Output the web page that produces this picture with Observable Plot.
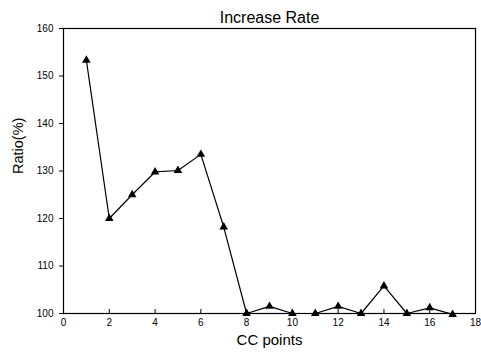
<!DOCTYPE html>
<html><head><meta charset="utf-8">
<script src="https://cdn.jsdelivr.net/npm/d3@7"></script>
<script src="https://cdn.jsdelivr.net/npm/@observablehq/plot@0.6"></script>
<style>body{margin:0;background:#fff}</style>
</head><body><div id="chart"></div>
<script>
const points = [1,2,3,4,5,6,7,8,9,10,11,12,13,14,15,16,17];
const ratio = [153.3,120,125,129.8,130.1,133.5,118.2,100,101.5,100,100,101.5,100,105.8,100,101.2,99.8];
const xTicks = [0,2,4,6,8,10,12,14,16,18];
const yTicks = [100,110,120,130,140,150,160];
const title = "Increase Rate";
const xLabel = "CC points";
const yLabel = "Ratio(%)";

const data = points.map((p,i)=>({x:p,y:ratio[i]}));
const font = "Liberation Sans, Arial, sans-serif";

const chart = Plot.plot({
  width: 481, height: 355,
  marginTop: 28, marginBottom: 42, marginLeft: 63, marginRight: 6,
  style: {fontFamily: font, fontSize: "10px", color: "#000", background: "#fff"},
  x: {domain:[0,18], ticks: xTicks, label: null},
  y: {domain:[100,160], ticks: yTicks, label: null},
  marks: [
    Plot.frame({stroke:"#000", strokeWidth:1.2}),
    Plot.axisX({ticks: xTicks, tickSize: -4, tickPadding: 9, label: null, fontSize: 10}),
    Plot.axisY({ticks: yTicks, tickSize: 4, tickPadding: 6, label: null, fontSize: 10}),
    Plot.line(data, {x:"x", y:"y", stroke:"#000", strokeWidth:1.2}),
    Plot.dot(data, {x:"x", y:"y", symbol:"triangle", r:3.2, fill:"#000", stroke:"none"}),
    Plot.text([title], {frameAnchor:"top", lineAnchor:"middle", dy:-11, text:d=>d, fontSize:16, fill:"#000"}),
    Plot.text([xLabel], {frameAnchor:"bottom", lineAnchor:"middle", dy:27, text:d=>d, fontSize:15, fill:"#000"}),
    Plot.text([yLabel], {frameAnchor:"left", lineAnchor:"middle", dx:-45, dy:3, rotate:-90, text:d=>d, fontSize:14.5, fill:"#000"})
  ]
});
document.getElementById("chart").appendChild(chart);
</script></body></html>
